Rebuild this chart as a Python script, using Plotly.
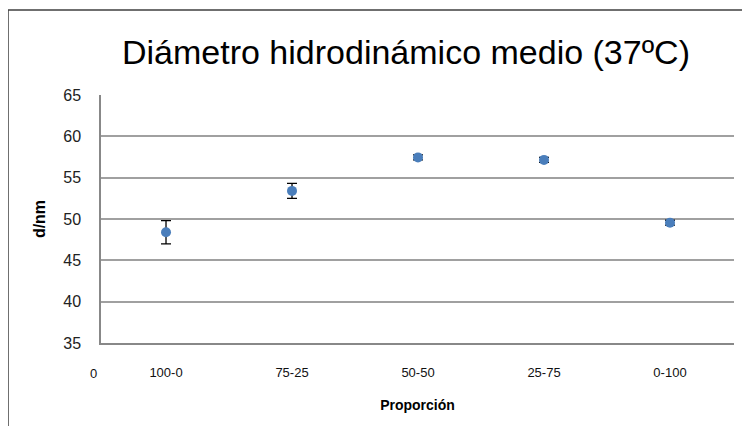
import plotly.graph_objects as go

categories = ["100-0", "75-25", "50-50", "25-75", "0-100"]
positions = [1, 2, 3, 4, 5]
diameter = [48.4, 53.4, 57.45, 57.15, 49.55]
error = [1.4, 0.9, 0.3, 0.3, 0.3]
y_ticks = [35, 40, 45, 50, 55, 60, 65]

OFF = 8  # page body margin offset
W, H = 750 - OFF, 426 - OFF
L, R, T, B = 101 - OFF, 734 - OFF, 95 - OFF, 343 - OFF

def px_x(px):
    return (px - OFF - L) / (R - L)

def px_y(py):
    return (B - (py - OFF)) / (B - T)

fig = go.Figure()
fig.add_trace(go.Scatter(
    x=positions, y=diameter, mode="markers",
    marker=dict(color="#4A7EBB", size=10),
    error_y=dict(type="data", array=error, visible=True, color="#000000",
                 thickness=1.3, width=5),
    showlegend=False, cliponaxis=False,
))

fig.update_layout(
    width=W, height=H,
    margin=dict(l=L, r=W - R, t=T, b=H - B),
    paper_bgcolor="white", plot_bgcolor="white",
    font=dict(family="Liberation Sans, Arial, sans-serif", color="#000000"),
    title=dict(text="Diámetro hidrodinámico medio (37ºC)", x=(406 - OFF) / W, xanchor="center",
               y=1 - (52 - OFF) / H, yanchor="middle",
               font=dict(size=34, family="Liberation Sans, Arial, sans-serif", color="#000000")),
    xaxis=dict(range=[0.484, 5.508], tickmode="array", tickvals=positions, ticktext=categories,
               showgrid=False, zeroline=False, showline=True, linecolor="#888888", linewidth=1.5,
               ticks="", ticklabelstandoff=17, tickfont=dict(size=13, color="#111111"),
               title=dict(text="<b>Proporción</b>", font=dict(size=14), standoff=21)),
    yaxis=dict(range=[35, 65], tickmode="array", tickvals=y_ticks,
               showgrid=True, gridcolor="#A0A0A0", gridwidth=1.5, zeroline=False,
               showline=True, linecolor="#888888", linewidth=1.5,
               ticks="", ticklabelstandoff=15, tickfont=dict(size=16, color="#222222"),
               title=dict(text="<b>d/nm</b>", font=dict(size=16), standoff=14)),
)

# "0" label left of first category
fig.add_annotation(xref="paper", yref="paper", x=px_x(93), y=px_y(373), text="0",
                   xanchor="center", yanchor="middle",
                   showarrow=False, font=dict(size=13, color="#111111"))

# outer chart border
fig.add_shape(type="rect", xref="paper", yref="paper",
              x0=px_x(8), y0=px_y(440), x1=px_x(760), y1=px_y(10),
              line=dict(color="#404040", width=1.5), fillcolor="rgba(0,0,0,0)", layer="below")

fig.write_html("out.html")
